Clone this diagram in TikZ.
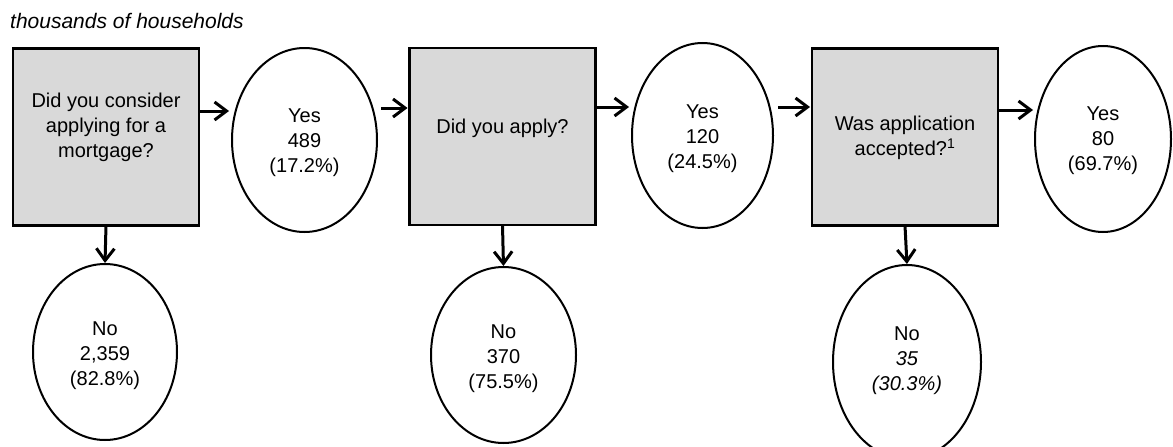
\documentclass[tikz,border=0pt]{standalone}
\usepackage{fontspec}
\setmainfont{Liberation Sans}
\usetikzlibrary{arrows.meta,shapes.geometric}
\definecolor{boxgray}{HTML}{D9D9D9}
\begin{document}
\begin{tikzpicture}[x=1pt,y=-1pt,
  qbox/.style={draw=black, line width=2.2pt, fill=boxgray, minimum width=186pt, minimum height=177pt, inner sep=0pt, outer sep=0pt},
  txt/.style={align=center, font=\fontsize{20}{25}\selectfont, inner sep=0pt},
  oval/.style={ellipse, draw=black, line width=2pt, fill=white, inner sep=0pt, outer sep=0pt},
  arr/.style={line width=3pt, -{Straight Barb[length=12pt,width=18pt]}},
]
\useasboundingbox (0,0) rectangle (1173,447);

\node[anchor=base west, inner sep=0pt, font=\fontsize{21}{25}\selectfont\itshape] (title) at (10,28) {thousands of households};

% question boxes
\node[qbox] (q1) at (106,137) {};
\node[txt] (q1t) at (106,127) {Did you consider\\applying for a\\mortgage?};
\node[qbox] (q2) at (502.5,136.5) {};
\node[txt] (q2t) at (502.5,128) {Did you apply?};
\node[qbox] (q3) at (905,137) {};
\node[txt] (q3t) at (905,138) {Was application\\accepted?\textsuperscript{1}};

% answer ovals
\node[oval, minimum width=145pt, minimum height=184pt] (y1) at (304.5,140) {};
\node[txt] (y1t) at (304.5,143) {Yes\\489\\(17.2\%)};
\node[oval, minimum width=141pt, minimum height=185pt] (y2) at (702.5,135.5) {};
\node[txt] (y2t) at (702.5,139) {Yes\\120\\(24.5\%)};
\node[oval, minimum width=136pt, minimum height=186pt] (y3) at (1103,139) {};
\node[txt] (y3t) at (1103,141) {Yes\\80\\(69.7\%)};
\node[oval, minimum width=144pt, minimum height=176pt] (n1) at (105,352) {};
\node[txt] (n1t) at (105,356) {No\\2,359\\(82.8\%)};
\node[oval, minimum width=145pt, minimum height=176pt] (n2) at (503.5,355) {};
\node[txt] (n2t) at (503.5,359) {No\\370\\(75.5\%)};
\node[oval, minimum width=148pt, minimum height=194pt] (n3) at (907,362) {};
\node[txt] (n3t) at (907,361) {No\\\textit{35}\\\textit{(30.3\%)}};

% connectors
\draw[arr, shorten >=3pt] (q1.east |- 0,111) -- (y1.west |- 0,111);
\draw[arr, shorten <=4pt, shorten >=2pt] (y1.east |- 0,108) -- (q2.west |- 0,108);
\draw[arr, shorten >=3pt] (q2.east |- 0,107) -- (y2.west |- 0,107);
\draw[arr, shorten <=5pt, shorten >=2pt] (y2.east |- 0,107) -- (q3.west |- 0,107);
\draw[arr, shorten >=2pt] (q3.east |- 0,110) -- (y3.west |- 0,110);
\draw[arr, shorten >=1pt] (q1.south) -- (n1.north);
\draw[arr, shorten >=1pt] (q2.south) -- (n2.north);
\draw[arr, shorten >=1pt] (q3.south) -- (n3.north);
\end{tikzpicture}
\end{document}
